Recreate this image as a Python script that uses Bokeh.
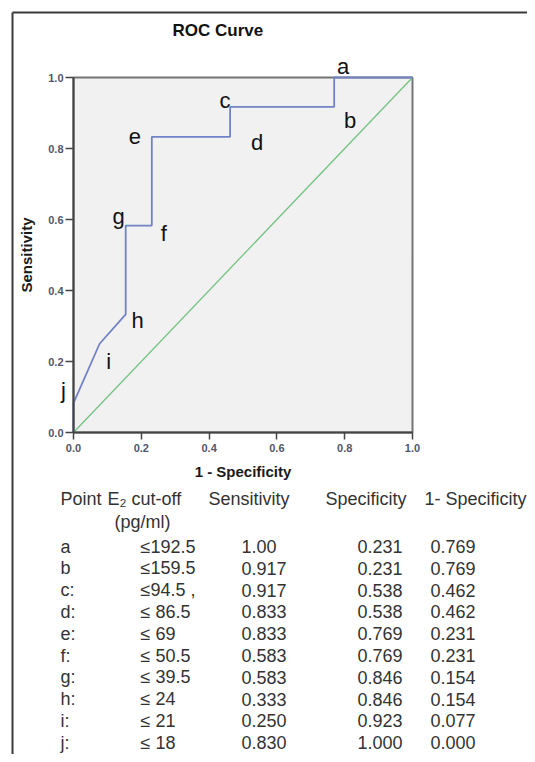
from bokeh.plotting import figure
from bokeh.models import (Range1d, LabelSet, ColumnDataSource, FixedTicker,
                          PrintfTickFormatter, LinearAxis)
from bokeh.core.properties import value
from bokeh.embed import file_html
from bokeh.resources import INLINE

# ---------------- data ----------------
ticks = [0.0, 0.2, 0.4, 0.6, 0.8, 1.0]

# ROC curve vertices (1 - specificity, sensitivity)
curve_fpr = [0.0, 0.0, 0.077, 0.154, 0.154, 0.231, 0.231, 0.462, 0.462, 0.769, 0.769, 1.0]
curve_tpr = [0.0, 0.083, 0.250, 0.333, 0.583, 0.583, 0.833, 0.833, 0.917, 0.917, 1.0, 1.0]
curve_tags = ["", "j", "i", "h", "g", "f", "e", "d", "c", "b", "a", ""]

# reference (chance) diagonal
ref_x = [0.0, 1.0]
ref_y = [0.0, 1.0]

# table
table_headers = ["Point", "E\u2082 cut-off", "Sensitivity", "Specificity", "1- Specificity"]
table_subheader = "(pg/ml)"
points = ["a", "b", "c:", "d:", "e:", "f:", "g:", "h:", "i:", "j:"]
cutoffs = ["\u2264192.5", "\u2264159.5", "\u226494.5 ,", "\u2264 86.5", "\u2264 69", "\u2264 50.5",
           "\u2264 39.5", "\u2264 24", "\u2264 21", "\u2264 18"]
sensitivity = ["1.00", "0.917", "0.917", "0.833", "0.833", "0.583", "0.583", "0.333", "0.250", "0.830"]
specificity = ["0.231", "0.231", "0.538", "0.538", "0.769", "0.769", "0.846", "0.846", "0.923", "1.000"]
one_minus_spec = ["0.769", "0.769", "0.462", "0.462", "0.231", "0.231", "0.154", "0.154", "0.077", "0.000"]

# ---------------- layout (canvas pixels) ----------------
FONT = "Liberation Sans"
W, H = 527, 754
PX0, PX1 = 73, 412      # canvas x of data 0 and 1
PY1, PY0 = 77, 432      # canvas y of data 1 and 0
sx = PX1 - PX0
sy = PY0 - PY1

p = figure(width=W, height=H,
           x_range=Range1d(-PX0 / sx, (W - PX0) / sx),
           y_range=Range1d(-(H - PY0) / sy, PY0 / sy),
           x_axis_location=None, y_axis_location=None,
           output_backend="svg", toolbar_location=None, min_border=0)
p.grid.visible = False
p.outline_line_color = None
p.background_fill_color = "white"
p.border_fill_color = "white"
p.extra_x_ranges = {"px": Range1d(0, W)}
p.extra_y_ranges = {"px": Range1d(H, 0)}

# outer frame of the figure panel
p.segment(x0=[12, 12], y0=[12, 12], x1=[12, W], y1=[H, 12], line_color="#3a3a3a", line_width=2,
          x_range_name="px", y_range_name="px")

# plot area
p.quad(left=ticks[0], right=ticks[-1], bottom=ticks[0], top=ticks[-1],
       fill_color="#f1f1f1", line_color="#747474", line_width=2)

p.line(ref_x, ref_y, line_color="#74c283", line_width=1.3)
p.line(curve_fpr, curve_tpr, line_color="#7282c6", line_width=1.8)

# axes
xaxis = LinearAxis(fixed_location=0, bounds=(ticks[0], ticks[-1]))
yaxis = LinearAxis(fixed_location=0, bounds=(ticks[0], ticks[-1]))
for ax in (xaxis, yaxis):
    ax.ticker = FixedTicker(ticks=ticks)
    ax.formatter = PrintfTickFormatter(format="%.1f")
    ax.minor_tick_line_color = None
    ax.major_tick_in = 0
    ax.major_tick_line_color = "#444444"
    ax.major_tick_line_width = 1.5
    ax.axis_line_color = "#444444"
    ax.axis_line_width = 2
    ax.major_label_text_font = FONT
    ax.major_label_text_font_size = "11px"
    ax.major_label_text_font_style = "bold"
    ax.major_label_text_color = "#55556a"
    ax.axis_label_text_font = FONT
    ax.axis_label_text_font_size = "15px"
    ax.axis_label_text_font_style = "bold"
    ax.axis_label_text_color = "#1a1a1a"
xaxis.axis_label = "1 - Specificity"
xaxis.major_tick_out = 7
xaxis.major_label_standoff = 4
xaxis.axis_label_standoff = 8
yaxis.axis_label = "Sensitivity"
yaxis.major_tick_out = 8
yaxis.major_label_standoff = 2
yaxis.axis_label_standoff = 10
p.add_layout(xaxis, "below")
p.add_layout(yaxis, "left")

# title
p.text(x=[172], y=[30], text=["ROC Curve"], x_range_name="px", y_range_name="px",
       text_font=value(FONT), text_font_size="17px", text_font_style="bold",
       text_color="#111111", text_align="left", text_baseline="middle")

# letter labels next to the curve vertices
lab_x = [x for x, t in zip(curve_fpr, curve_tags) if t]
lab_y = [y for y, t in zip(curve_tpr, curve_tags) if t]
lab_t = [t for t in curve_tags if t]
offsets = {"a": (9, 11), "b": (16, -14), "c": (-5, 6), "d": (27, -6), "e": (-17, 0),
           "f": (12, -8), "g": (-7, 9), "h": (12, -6), "i": (9, -18), "j": (-10, 13)}
src = ColumnDataSource(dict(x=lab_x, y=lab_y, text=lab_t,
                            dx=[offsets[t][0] for t in lab_t],
                            dy=[offsets[t][1] for t in lab_t]))
p.add_layout(LabelSet(x="x", y="y", text="text", x_offset="dx", y_offset="dy", source=src,
                      text_font=value(FONT), text_font_size="22px", text_color="#111111",
                      text_align="center", text_baseline="middle"))

# ---------------- table ----------------
tstyle = dict(text_font=value(FONT), text_font_size="18px", text_color="#333333",
              text_align="left", text_baseline="middle",
              x_range_name="px", y_range_name="px")

header_x = [60, 107, 208, 325, 424]
t_head_y = 498
p.text(x=header_x, y=[t_head_y] * len(table_headers), text=table_headers, **tstyle)
p.text(x=[114], y=[t_head_y + 23], text=[table_subheader], **tstyle)

row_y = [t_head_y + 48 + i * 21.8 for i in range(len(points))]
col_x = [60, 140, 241, 357, 430]
for cx, col in zip(col_x, [points, cutoffs, sensitivity, specificity, one_minus_spec]):
    p.text(x=[cx] * len(col), y=row_y, text=col, **tstyle)

open("out.html", "w").write(file_html(p, INLINE))
